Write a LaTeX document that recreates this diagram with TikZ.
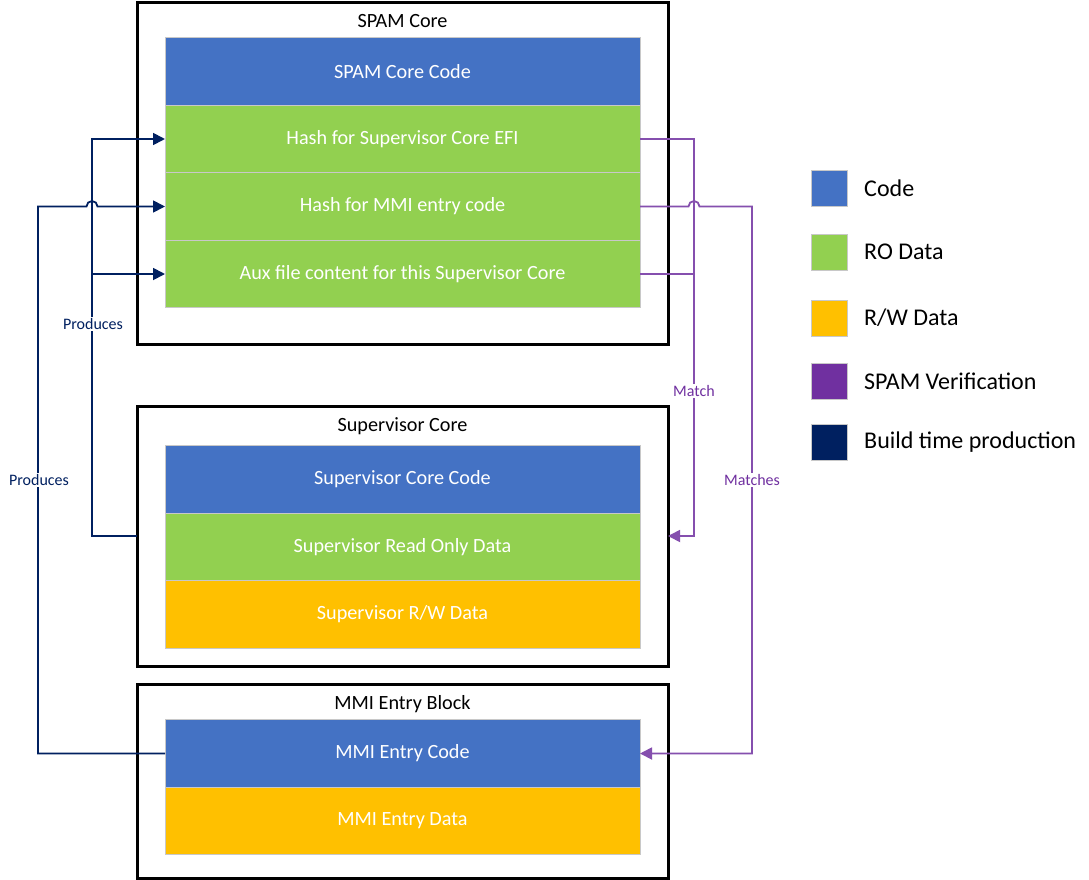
\documentclass[tikz,border=0pt]{standalone}
\usepackage{fontspec}
\setmainfont{Carlito}
\usetikzlibrary{arrows.meta}
\definecolor{cblue}{HTML}{4472C4}
\definecolor{cgreen}{HTML}{92D050}
\definecolor{cyellow}{HTML}{FFC000}
\definecolor{cpurple}{HTML}{7030A0}
\definecolor{cnavy}{HTML}{002060}
\definecolor{cgrid}{HTML}{C8C8C8}
\tikzset{
  row/.style={draw=cgrid,line width=1pt,minimum width=475pt,minimum height=67.5pt,inner sep=0pt,outer sep=0pt,text=white,font=\fontsize{20.2}{24}\selectfont},
  outerbox/.style={draw=black,line width=3pt,minimum width=531pt,inner sep=0pt,outer sep=0pt},
  titletext/.style={font=\fontsize{20.2}{24}\selectfont,inner sep=0pt},
  navyline/.style={draw=cnavy,line width=1.8pt},
  purpline/.style={draw=cpurple!85,line width=1.8pt},
  arr/.style={-{Triangle[length=12pt,width=12pt]}},
  lbl/.style={fill=white,inner sep=1pt,font=\fontsize{16}{19}\selectfont},
  legsq/.style={draw=cgrid,line width=1pt,minimum size=36pt,inner sep=0pt},
  legtext/.style={font=\fontsize{24}{28}\selectfont,anchor=west,inner sep=0pt}
}
\begin{document}
\begin{tikzpicture}[x=1pt,y=1pt]
\useasboundingbox (0,0) rectangle (1089,-880);
\fill[white] (0,0) rectangle (1089,-880);
% outer boxes
\node[outerbox,minimum height=341pt] (spam) at (402.5,-173.5) {};
\node[outerbox,minimum height=260pt] (sup) at (402.5,-536) {};
\node[outerbox,minimum height=194pt] (mmi) at (402.5,-781) {};
\node[titletext] (spamt) at (402.5,-21) {SPAM Core};
\node[titletext] (supt) at (402.5,-426) {Supervisor Core};
\node[titletext] (mmit) at (402.5,-704) {MMI Entry Block};
% rows
\node[row,fill=cblue] (spamcode) at (402.5,-71.5) {SPAM Core Code};
\node[row,fill=cgreen] (hashefi) at (402.5,-139) {Hash for Supervisor Core EFI};
\node[row,fill=cgreen] (hashmmi) at (402.5,-206.5) {Hash for MMI entry code};
\node[row,fill=cgreen] (aux) at (402.5,-274) {Aux file content for this Supervisor Core};
\node[row,fill=cblue] (supcode) at (402.5,-479.5) {Supervisor Core Code};
\node[row,fill=cgreen] (supro) at (402.5,-547) {Supervisor Read Only Data};
\node[row,fill=cyellow] (suprw) at (402.5,-614.5) {Supervisor R/W Data};
\node[row,fill=cblue] (mmicode) at (402.5,-753.5) {MMI Entry Code};
\node[row,fill=cyellow] (mmidata) at (402.5,-821) {MMI Entry Data};
% navy connectors
\coordinate (n1a) at (92,-536);
\coordinate (n1b) at (92,-139);
\coordinate (n1c) at (92,-274);
\draw[navyline,arr] (sup.west) -- (n1a) -- (n1b) -- (hashefi.west);
\draw[navyline,arr] (n1c) -- (aux.west);
\coordinate (n2a) at (38,-753.5);
\coordinate (n2b) at (38,-206.5);
\coordinate (n2h) at (86.5,-206.5);
\draw[navyline,arr] (mmicode.west) -- (n2a) -- (n2b) -- (n2h) arc (180:0:5.5) -- (hashmmi.west);
\node[lbl,text=cnavy] (p1) at (93,-324) {Produces};
\node[lbl,text=cnavy] (p2) at (39,-480) {Produces};
% purple connectors
\coordinate (m1a) at (694,-139);
\coordinate (m1b) at (694,-536);
\coordinate (m1c) at (694,-274);
\draw[purpline,arr] (hashefi.east) -- (m1a) -- (m1b) -- (sup.east);
\draw[purpline] (aux.east) -- (m1c);
\coordinate (m2h) at (688.5,-206.5);
\coordinate (m2a) at (752,-206.5);
\coordinate (m2b) at (752,-753.5);
\draw[purpline,arr] (hashmmi.east) -- (m2h) arc (180:0:5.5) -- (m2a) -- (m2b) -- (mmicode.east);
\node[lbl,text=cpurple] (ml1) at (694,-391) {Match};
\node[lbl,text=cpurple] (ml2) at (752,-480) {Matches};
% legend
\node[legsq,fill=cblue] (lg1) at (829,-188) {};
\node[legsq,fill=cgreen] (lg2) at (829,-252) {};
\node[legsq,fill=cyellow] (lg3) at (829,-318) {};
\node[legsq,fill=cpurple] (lg4) at (829,-381) {};
\node[legsq,fill=cnavy] (lg5) at (829,-442) {};
\node[legtext] (lt1) at (864,-188) {Code};
\node[legtext] (lt2) at (864,-252) {RO Data};
\node[legtext] (lt3) at (864,-318) {R/W Data};
\node[legtext] (lt4) at (864,-381) {SPAM Verification};
\node[legtext] (lt5) at (864,-442) {Build time production};
\end{tikzpicture}
\end{document}
